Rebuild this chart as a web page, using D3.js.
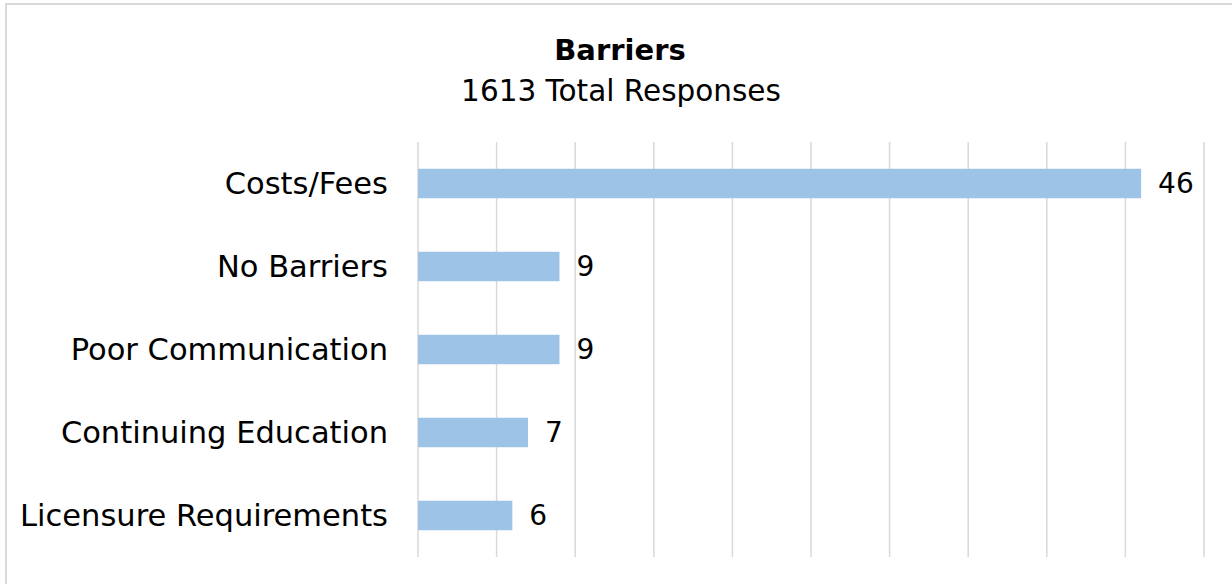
<!DOCTYPE html>
<html>
<head>
<meta charset="utf-8">
<script src="https://cdn.jsdelivr.net/npm/d3@7"></script>
<style>
  html, body { margin: 0; padding: 0; background: #fff; }
  svg { display: block; }
  text { font-family: "DejaVu Sans", sans-serif; fill: #000; }
</style>
</head>
<body>
<svg id="chart" width="1232" height="584"></svg>
<script>
// Survey data: barriers reported by respondents
const categories = ["Costs/Fees", "No Barriers", "Poor Communication", "Continuing Education", "Licensure Requirements"];
const values = [46, 9, 9, 7, 6];
const gridTicks = [0, 5, 10, 15, 20, 25, 30, 35, 40, 45, 50];
const titleText = "Barriers";
const subtitleText = "1613 Total Responses";

const svg = d3.select("#chart");
const plot = { left: 418, right: 1204, top: 142, bottom: 557 };

// Outer chart frame
svg.append("rect")
  .attr("x", 6).attr("y", 4)
  .attr("width", 1240).attr("height", 600)
  .attr("fill", "#fff")
  .attr("stroke", "#d9d9d9").attr("stroke-width", 2);

const x = d3.scaleLinear().domain([0, 50]).range([plot.left, plot.right]);
const y = d3.scaleBand().domain(categories).range([plot.top, plot.bottom]).paddingInner(0.645).paddingOuter(0.3225);

// Vertical gridlines
svg.append("g")
  .selectAll("line")
  .data(gridTicks)
  .join("line")
  .attr("x1", d => x(d)).attr("x2", d => x(d))
  .attr("y1", plot.top).attr("y2", plot.bottom)
  .attr("stroke", "#d9d9d9").attr("stroke-width", 1.5);

// Bars
svg.append("g")
  .selectAll("rect")
  .data(categories)
  .join("rect")
  .attr("x", x(0))
  .attr("y", d => y(d))
  .attr("width", (d, i) => x(values[i]) - x(0))
  .attr("height", y.bandwidth())
  .attr("fill", "#9dc3e6");

// Category labels
svg.append("g")
  .selectAll("text")
  .data(categories)
  .join("text")
  .attr("x", 388)
  .attr("y", d => y(d) + y.bandwidth() / 2)
  .attr("dy", "0.35em")
  .attr("text-anchor", "end")
  .attr("font-size", 30.5)
  .text(d => d);

// Value labels
svg.append("g")
  .selectAll("text")
  .data(categories)
  .join("text")
  .attr("x", (d, i) => x(values[i]) + 17)
  .attr("y", d => y(d) + y.bandwidth() / 2)
  .attr("dy", "0.35em")
  .attr("font-size", 28)
  .text((d, i) => values[i]);

// Titles
svg.append("text")
  .attr("x", 620).attr("y", 60)
  .attr("text-anchor", "middle")
  .attr("font-size", 29)
  .attr("font-weight", "bold")
  .text(titleText);

svg.append("text")
  .attr("x", 621).attr("y", 101)
  .attr("text-anchor", "middle")
  .attr("font-size", 29.5)
  .text(subtitleText);
</script>
</body>
</html>
